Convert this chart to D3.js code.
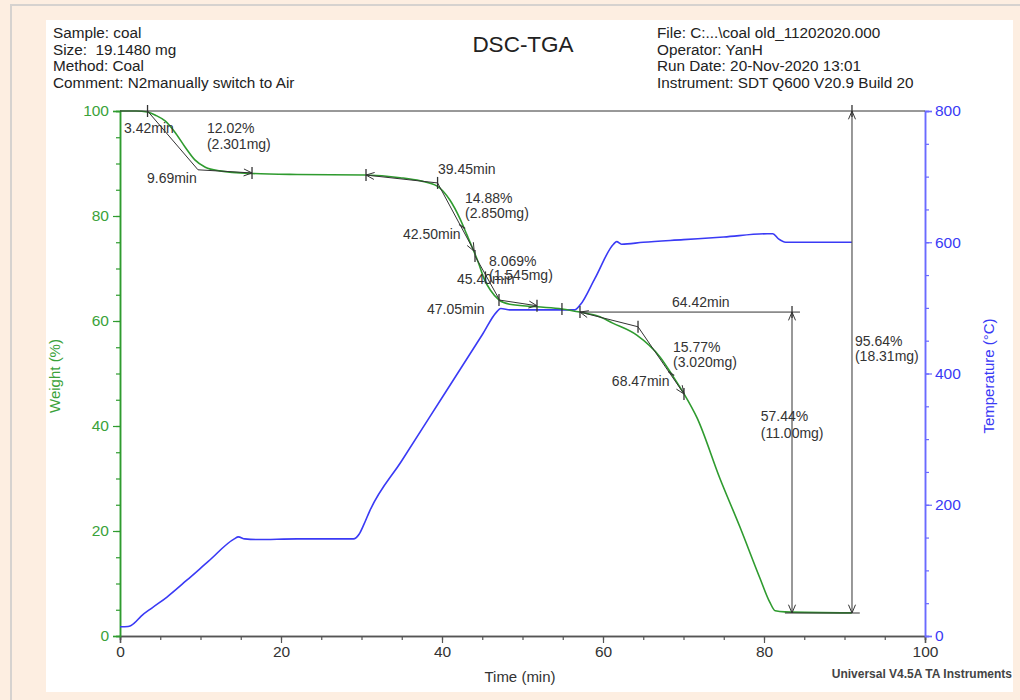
<!DOCTYPE html>
<html>
<head>
<meta charset="utf-8">
<script src="https://cdn.jsdelivr.net/npm/d3@7"></script>
<style>
  body { margin: 0; background: #fdeee1; font-family: "Liberation Sans", Arial, sans-serif; }
  svg text { font-family: "Liberation Sans", Arial, sans-serif; }
</style>
</head>
<body>
<script>
// weight curve (time in min, weight in %)
var weightTime = [0, 2, 3.4, 4.4, 5.6, 6.8, 8.1, 9.3, 10.6, 12.4, 16.4, 22, 30.4, 34.8, 37.3, 39.4, 41, 42.2, 43.1, 43.9,
  44.5, 45.3, 46, 47.1, 48.4, 51.8, 54.9, 57.1, 59.6, 61.2, 64.2, 67.1, 68.6, 70, 71.7, 74.5, 77, 79.5, 80.7, 81.4, 82.6, 90.9];
var weightVals = [100, 100, 99.8, 99.2, 98.1, 96, 93.1, 90.7, 89.3, 88.6, 88.1, 87.9, 87.8, 87.3, 86.7, 85.7, 83, 79.6, 76.4, 73.5,
  71.2, 67.8, 65.9, 64, 63.2, 62.7, 62.3, 61.7, 60.8, 59.6, 57.3, 53.1, 49.7, 46.3, 41.5, 30.1, 20.8, 11.0, 6.5, 4.8, 4.6, 4.4];

// temperature curve (time in min, temp in C)
var tempTime = [0, 1, 1.8, 2.6, 4, 5.8, 8.3, 11, 14.2, 14.7, 15.5, 17, 22, 29, 29.7, 30.3, 31, 35, 40, 45,
  46.8, 47.3, 48.5, 52, 56.5, 57.2, 59, 61.3, 61.7, 62.3, 65, 70, 75, 80.4, 81.1, 81.8, 82.7, 86, 90.9];
var tempVals = [14, 14.5, 20, 30, 43, 59, 85, 114, 148, 151, 148, 147, 148, 148, 155, 170, 190, 267, 363, 459,
  494, 499, 497, 497, 497, 505, 545, 597, 601, 597, 600, 604, 608, 613, 613, 605, 600, 600, 600];

// axis ticks
var timeTicks = [0, 20, 40, 60, 80, 100];
var weightTicks = [0, 20, 40, 60, 80, 100];
var tempTicks = [0, 200, 400, 600, 800];

// analysis lines: [t1, w1, t2, w2, arrowAtStart, arrowAtEnd]
var analysisLines = [
  [0, 100, 100, 100, 0, 0],
  [3.42, 100, 9.69, 88.8, 0, 0],
  [9.69, 88.8, 16.4, 88.2, 0, 1],
  [39.45, 86.3, 30.56, 87.8, 0, 1],
  [39.45, 86.3, 44.0, 73.3, 0, 1],
  [44.1, 72.4, 47.08, 64.2, 0, 0],
  [47.08, 64.0, 51.8, 62.9, 0, 1],
  [64.35, 58.9, 57.14, 61.7, 0, 1],
  [64.35, 58.9, 70.06, 46.1, 0, 1],
  [57.14, 61.7, 84.47, 61.7, 0, 0],
  [83.48, 61.7, 83.48, 4.38, 1, 1],
  [82.6, 4.38, 91.9, 4.38, 0, 0],
  [90.93, 100, 90.93, 4.38, 1, 1]
];
// limit markers: [t, w]
var limitMarks = [[3.42, 100], [16.4, 88.2], [30.56, 87.8], [39.45, 86.3], [44.1, 72.4], [45.4, 68.3],
  [47.08, 64.0], [51.8, 62.9], [54.9, 62.3], [57.14, 61.7], [64.35, 58.9], [70.06, 46.1], [83.48, 61.7], [90.93, 100]];
var onsetMarks = [[42.5, 78.0], [68.47, 50.0]];

// analysis labels: [t, w, text]
var analysisLabels = [
  [0.5, 95.8, "3.42min"],
  [10.8, 95.8, "12.02%"], [10.8, 92.8, "(2.301mg)"],
  [3.35, 86.3, "9.69min"],
  [39.5, 88.0, "39.45min"],
  [42.86, 82.5, "14.88%"], [42.86, 79.6, "(2.850mg)"],
  [35.16, 75.6, "42.50min"],
  [45.84, 70.5, "8.069%"], [45.84, 67.8, "(1.545mg)"],
  [41.86, 67.0, "45.40min"],
  [38.14, 61.3, "47.05min"],
  [68.57, 62.7, "64.42min"],
  [68.7, 54.1, "15.77%"], [68.7, 51.2, "(3.020mg)"],
  [61.1, 47.6, "68.47min"],
  [79.6, 41.0, "57.44%"], [79.6, 37.7, "(11.00mg)"],
  [91.3, 55.2, "95.64%"], [91.3, 52.4, "(18.31mg)"]
];

var headerLeft = ["Sample: coal", "Size:  19.1480 mg", "Method: Coal", "Comment: N2manually switch to Air"];
var headerRight = ["File: C:...\\coal old_11202020.000", "Operator: YanH", "Run Date: 20-Nov-2020 13:01", "Instrument: SDT Q600 V20.9 Build 20"];

var green = "#2f9b2f", greenText = "#3aa23a", blue = "#3a3af5", blueAxis = "#6a6aff", ink = "#333";

var svg = d3.select("body").append("svg")
  .attr("width", 1020)
  .attr("height", 700);

// frame / background
svg.append("rect").attr("width", 1020).attr("height", 700).attr("fill", "#fdeee1");
svg.append("line").attr("x1", 10).attr("x2", 1020).attr("y1", 5).attr("y2", 5)
  .attr("stroke", "#d6d2cf").attr("stroke-width", 2);
svg.append("line").attr("x1", 11).attr("x2", 11).attr("y1", 5).attr("y2", 700)
  .attr("stroke", "#d6d2cf").attr("stroke-width", 2);
svg.append("rect").attr("x", 46).attr("y", 20).attr("width", 967).attr("height", 672).attr("fill", "#fff");

var x = d3.scaleLinear().domain([0, 100]).range([120, 925]);
var yW = d3.scaleLinear().domain([0, 100]).range([636, 111]);
var yT = d3.scaleLinear().domain([0, 800]).range([636, 111]);

// header texts
svg.selectAll(".hl").data(headerLeft).enter().append("text")
  .attr("x", 53).attr("y", function(d, i){ return 38 + i * 16.5; })
  .attr("font-size", 15.3).attr("fill", "#222")
  .style("white-space", "pre")
  .text(function(d){ return d; });
svg.selectAll(".hr").data(headerRight).enter().append("text")
  .attr("x", 657).attr("y", function(d, i){ return 38 + i * 16.5; })
  .attr("font-size", 15.3).attr("fill", "#222")
  .text(function(d){ return d; });
svg.append("text").attr("x", 523).attr("y", 52).attr("text-anchor", "middle")
  .attr("font-size", 22.5).attr("fill", "#222").text("DSC-TGA");

// axes
function styleAxis(g, color, textColor){
  g.select(".domain").attr("stroke", color).attr("stroke-width", 1.5);
  g.selectAll(".tick line").attr("stroke", color).attr("stroke-width", 1.2);
  g.selectAll(".tick text").attr("fill", textColor).attr("font-size", 15.5)
    .style("font-family", "'Liberation Sans', Arial, sans-serif");
}

var xMinor = svg.append("g").attr("transform", "translate(0,636)")
  .call(d3.axisBottom(x).tickValues(d3.range(0, 101, 5)).tickSize(4).tickFormat(""));
styleAxis(xMinor, "#555", ink);
var xAxis = svg.append("g").attr("transform", "translate(0,636)")
  .call(d3.axisBottom(x).tickValues(timeTicks).tickSize(7).tickPadding(3).tickFormat(d3.format("d")));
styleAxis(xAxis, "#555", ink);

var yMinor = svg.append("g").attr("transform", "translate(120,0)")
  .call(d3.axisLeft(yW).tickValues(d3.range(0, 101, 5)).tickSize(4).tickFormat(""));
styleAxis(yMinor, green, greenText);
var yAxis = svg.append("g").attr("transform", "translate(120,0)")
  .call(d3.axisLeft(yW).tickValues(weightTicks).tickSize(7).tickPadding(4).tickFormat(d3.format("d")));
styleAxis(yAxis, green, greenText);

var tMinor = svg.append("g").attr("transform", "translate(925,0)")
  .call(d3.axisRight(yT).tickValues(d3.range(0, 801, 50)).tickSize(4).tickFormat(""));
styleAxis(tMinor, blueAxis, blue);
var tAxis = svg.append("g").attr("transform", "translate(925,0)")
  .call(d3.axisRight(yT).tickValues(tempTicks).tickSize(7).tickPadding(3).tickFormat(d3.format("d")));
styleAxis(tAxis, blueAxis, blue);

// axis titles
svg.append("text").attr("x", 520).attr("y", 682).attr("text-anchor", "middle")
  .attr("font-size", 15).attr("fill", ink).text("Time (min)");
svg.append("text").attr("transform", "translate(60,376) rotate(-90)").attr("text-anchor", "middle")
  .attr("font-size", 15).attr("fill", greenText).text("Weight (%)");
svg.append("text").attr("transform", "translate(994,376) rotate(-90)").attr("text-anchor", "middle")
  .attr("font-size", 15).attr("fill", blue).text("Temperature (\u00B0C)");
svg.append("text").attr("x", 1012).attr("y", 678).attr("text-anchor", "end")
  .attr("font-size", 12).attr("font-weight", "bold").attr("fill", "#444").text("Universal V4.5A TA Instruments");

// temperature curve
var tempLine = d3.line()
  .x(function(d){ return x(d[0]); })
  .y(function(d){ return yT(d[1]); })
  .curve(d3.curveMonotoneX);
svg.append("path")
  .datum(tempTime.map(function(t, i){ return [t, tempVals[i]]; }))
  .attr("d", tempLine)
  .attr("fill", "none").attr("stroke", blue).attr("stroke-width", 1.6);

// weight curve
var weightLine = d3.line()
  .x(function(d){ return x(d[0]); })
  .y(function(d){ return yW(d[1]); })
  .curve(d3.curveMonotoneX);
svg.append("path")
  .datum(weightTime.map(function(t, i){ return [t, weightVals[i]]; }))
  .attr("d", weightLine)
  .attr("fill", "none").attr("stroke", green).attr("stroke-width", 1.6);

// analysis lines with open arrowheads
var ann = svg.append("g").attr("stroke", ink).attr("stroke-width", 1).attr("fill", "none");
function arrowHead(px, py, fromX, fromY){
  var a = Math.atan2(py - fromY, px - fromX), len = 9, spread = 0.4;
  ann.append("path")
    .attr("d", "M" + (px - len * Math.cos(a - spread)) + "," + (py - len * Math.sin(a - spread)) +
      "L" + px + "," + py +
      "L" + (px - len * Math.cos(a + spread)) + "," + (py - len * Math.sin(a + spread)));
}
analysisLines.forEach(function(d){
  var x1 = x(d[0]), y1 = yW(d[1]), x2 = x(d[2]), y2 = yW(d[3]);
  ann.append("line").attr("x1", x1).attr("y1", y1).attr("x2", x2).attr("y2", y2);
  if (d[4]) arrowHead(x1, y1, x2, y2);
  if (d[5]) arrowHead(x2, y2, x1, y1);
});
limitMarks.forEach(function(d){
  ann.append("line").attr("x1", x(d[0])).attr("x2", x(d[0]))
    .attr("y1", yW(d[1]) - 6).attr("y2", yW(d[1]) + 6).attr("stroke-width", 1.3);
});
onsetMarks.forEach(function(d){
  ann.append("line").attr("x1", x(d[0]) - 3).attr("x2", x(d[0]) + 3)
    .attr("y1", yW(d[1]) - 2).attr("y2", yW(d[1]) + 2).attr("stroke-width", 1.3);
});

svg.selectAll(".lbl").data(analysisLabels).enter().append("text")
  .attr("x", function(d){ return x(d[0]); })
  .attr("y", function(d){ return yW(d[1]); })
  .attr("font-size", 14).attr("fill", ink)
  .text(function(d){ return d[2]; });
</script>
</body>
</html>
